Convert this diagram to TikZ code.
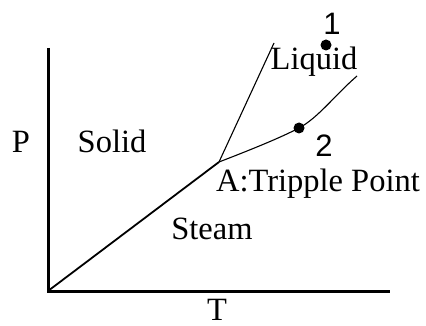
\documentclass[tikz,border=0pt]{standalone}
\usepackage{fontspec}
\setmainfont{Liberation Serif}
\newfontfamily\numfont{Liberation Sans}
\begin{document}
\begin{tikzpicture}[x=1pt,y=-1pt,
  lbl/.style={font=\fontsize{32.5}{34}\selectfont, inner sep=0pt, anchor=base},
  num/.style={font=\numfont\fontsize{31}{33}\selectfont, inner sep=0pt, anchor=base},
  axis/.style={line width=3pt},
  edge/.style={line width=1.8pt},
  curve/.style={line width=1.1pt},
  dot/.style={circle, fill=black, inner sep=0pt, minimum size=11pt}]
\useasboundingbox (0,0) rectangle (426,326);
\coordinate (O) at (48,291);
\coordinate (ytop) at (48,48);
\coordinate (xend) at (390,291);
\coordinate (A) at (219,162);
\coordinate (F) at (274,43);
\coordinate (V) at (357,76);
\draw[axis] (ytop) -- (O) -- (xend);
\draw[edge] (O) -- (A);
\draw[curve] (A) -- (F);
\node[dot] (d2) at (299,128) {};
\node[dot] (d1) at (326,45) {};
\draw[curve] (A) .. controls (250,150) and (280,138) .. (d2.center)
  .. controls (318,118) and (335,95) .. (V);
\node[lbl] (P) at (21,153) {P};
\node[lbl] (T) at (217,320) {T};
\node[lbl] (solid) at (112,153) {Solid};
\node[lbl] (liquid) at (314,70) {Liquid};
\node[lbl] (steam) at (212,240) {Steam};
\node[lbl] (tp) at (318,192) {A:Tripple Point};
\node[num] (n1) at (332,35) {1};
\node[num] (n2) at (324,157) {2};
\end{tikzpicture}
\end{document}
